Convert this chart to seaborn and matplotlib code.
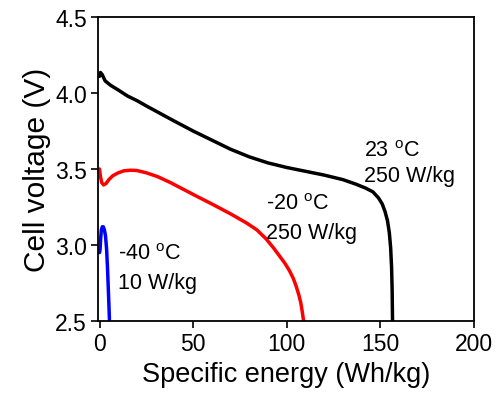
import numpy as np
import pandas as pd
import matplotlib
matplotlib.use("Agg")
import matplotlib.pyplot as plt
import seaborn as sns

# Discharge curves
energy_23 = [0, 0.5, 1.5, 3, 6, 10, 15, 20, 25, 32.5, 40, 50, 60, 70, 80, 90, 100, 110, 120, 130, 137, 142, 146, 149, 151, 152.5, 153.8, 154.8, 155.5, 156, 156.3, 156.5]
volt_23 = [4.11, 4.135, 4.12, 4.08, 4.05, 4.02, 3.98, 3.95, 3.915, 3.865, 3.815, 3.75, 3.69, 3.63, 3.58, 3.54, 3.51, 3.485, 3.46, 3.43, 3.40, 3.375, 3.35, 3.31, 3.27, 3.22, 3.16, 3.08, 2.98, 2.85, 2.70, 2.50]

energy_m20 = [0, 0.5, 1.2, 2.2, 3.5, 5, 7, 10, 13, 16.5, 20, 25, 31, 38, 45, 52, 60, 70, 78.5, 84, 89, 93, 96, 99, 101.5, 103.5, 105, 106.5, 107.5, 108.3, 109]
volt_m20 = [3.50, 3.45, 3.41, 3.395, 3.405, 3.43, 3.455, 3.475, 3.488, 3.492, 3.49, 3.475, 3.45, 3.41, 3.365, 3.32, 3.27, 3.205, 3.145, 3.10, 3.04, 2.98, 2.93, 2.88, 2.83, 2.78, 2.73, 2.67, 2.62, 2.56, 2.50]

energy_m40 = [0, 0.3, 0.6, 1.0, 1.5, 2.0, 2.6, 3.2, 3.8, 4.3, 4.8, 5.3]
volt_m40 = [2.95, 2.97, 3.04, 3.10, 3.12, 3.12, 3.10, 3.06, 2.97, 2.84, 2.68, 2.51]

labels = ["23", "-20", "-40"]
colors = ["black", "#ff0000", "#0000ff"]

frames = []
for lab, e, v in zip(labels, [energy_23, energy_m20, energy_m40],
                     [volt_23, volt_m20, volt_m40]):
    frames.append(pd.DataFrame({"energy": e, "voltage": v, "temp": lab}))
df = pd.concat(frames, ignore_index=True)

sns.set_style("ticks")
plt.rcParams['font.family'] = ['Liberation Sans', 'DejaVu Sans']
plt.rcParams['mathtext.fontset'] = 'custom'
plt.rcParams['mathtext.rm'] = 'Liberation Sans'
plt.rcParams['text.color'] = 'black'
plt.rcParams['axes.labelcolor'] = 'black'

fig = plt.figure(figsize=(4.96, 4.02), dpi=100)
ax = fig.add_axes([0.1976, 0.199, 0.758, 0.7562])

sns.lineplot(data=df, x="energy", y="voltage", hue="temp", palette=colors,
             hue_order=labels, sort=False, estimator=None, linewidth=2.5,
             legend=False, ax=ax)

ax.set_xlim(-0.8, 200)
ax.set_ylim(2.5, 4.5)
ax.set_xticks([0, 50, 100, 150, 200])
ax.set_yticks([2.5, 3.0, 3.5, 4.0, 4.5])
ax.set_yticklabels(["2.5", "3.0", "3.5", "4.0", "4.5"])
ax.set_xlabel("Specific energy (Wh/kg)", fontsize=19.5, labelpad=4)
ax.set_ylabel("Cell voltage (V)", fontsize=21.5, labelpad=3)
ax.tick_params(axis="both", direction="out", length=5, width=1.2,
               labelsize=16.5, colors="black", pad=3)
for s in ax.spines.values():
    s.set_linewidth(1.3)
    s.set_color("black")

deg = r"$^{\mathrm{o}}$C"
fs = 15.5
ax.text(141.5, 3.587, "23 " + deg, fontsize=fs, va="baseline")
ax.text(141.5, 3.42, "250 W/kg", fontsize=fs, va="baseline")
ax.text(88.8, 3.237, "-20 " + deg, fontsize=fs, va="baseline")
ax.text(88.8, 3.046, "250 W/kg", fontsize=fs, va="baseline")
ax.text(10.1, 2.908, "-40 " + deg, fontsize=fs, va="baseline")
ax.text(10.1, 2.715, "10 W/kg", fontsize=fs, va="baseline")

fig.savefig("out.png", dpi=100)
